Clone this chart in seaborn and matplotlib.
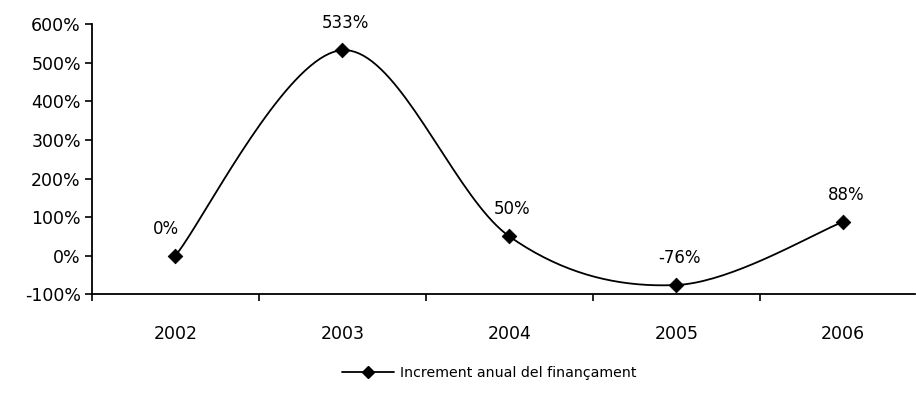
import numpy as np
import pandas as pd
import matplotlib
matplotlib.use("Agg")
import matplotlib.pyplot as plt
from matplotlib.lines import Line2D
import seaborn as sns

years = ["2002", "2003", "2004", "2005", "2006"]
values = [0, 533, 50, -76, 88]
labels = ["0%", "533%", "50%", "-76%", "88%"]
series_name = "Increment anual del finançament"

sns.set_theme(style="white")
plt.rcParams["font.family"] = ["DejaVu Sans"]
plt.rcParams["text.color"] = "black"
plt.rcParams["xtick.color"] = "black"
plt.rcParams["ytick.color"] = "black"

fig = plt.figure(figsize=(9.16, 4.09), dpi=100)
ax = fig.add_axes([0.1004, 0.2805, 0.8986, 0.6601])

x = np.arange(len(years), dtype=float)
y = np.array(values, dtype=float)

# Smoothed rendering (Bezier, spreadsheet-style "smoothed line")
sx, sy = [], []
n = len(x)
for i in range(n - 1):
    p0 = np.array([x[max(i - 1, 0)], y[max(i - 1, 0)]])
    p1 = np.array([x[i], y[i]])
    p2 = np.array([x[i + 1], y[i + 1]])
    p3 = np.array([x[min(i + 2, n - 1)], y[min(i + 2, n - 1)]])
    c1 = p1 + (p2 - p0) / 6.0
    c2 = p2 - (p3 - p1) / 6.0
    t = np.linspace(0, 1, 40)[:, None]
    pts = ((1 - t) ** 3) * p1 + 3 * ((1 - t) ** 2) * t * c1 + 3 * (1 - t) * t ** 2 * c2 + t ** 3 * p2
    sx.extend(pts[:, 0]); sy.extend(pts[:, 1])

curve = pd.DataFrame({"x": sx, "y": sy})
sns.lineplot(data=curve, x="x", y="y", ax=ax, color="black", linewidth=1.3, sort=False, estimator=None)
pts_df = pd.DataFrame({"x": x, "y": y})
sns.scatterplot(data=pts_df, x="x", y="y", ax=ax, marker="D", s=55, color="black", edgecolor="black", zorder=5)

for xi, yi, lab in zip(x, y, labels):
    dx = -10 if lab == "0%" else 3
    ax.annotate(lab, (xi, yi), xytext=(dx, 27), textcoords="offset pixels",
                ha="center", va="center", fontsize=12, color="black")

ax.set_xlim(-0.5, 4.43)
ax.set_ylim(-100, 600)
ax.set_yticks(np.arange(-100, 601, 100))
ax.set_yticklabels([f"{v}%" for v in range(-100, 601, 100)], fontsize=12.5)
ax.set_xticks(x)
ax.set_xticklabels(years, fontsize=12.5)
ax.set_xticks(np.arange(-0.5, 4.5, 1.0), minor=True)
ax.tick_params(axis="x", which="major", length=0, pad=22, labelcolor="black")
ax.tick_params(axis="x", which="minor", length=5, width=1.2, direction="out", color="black", bottom=True)
ax.tick_params(axis="y", which="major", length=5, width=1.2, direction="out", color="black", left=True, pad=3,
               labelcolor="black")
ax.set_xlabel(""); ax.set_ylabel("")
for s in ["top", "right"]:
    ax.spines[s].set_visible(False)
for s in ["left", "bottom"]:
    ax.spines[s].set_color("black")
    ax.spines[s].set_linewidth(1.3)

handle = Line2D([0], [0], color="black", linewidth=1.3, marker="D", markersize=6.5)
leg = fig.legend([handle], [series_name], loc="center", bbox_to_anchor=(0.534, 0.088), frameon=False,
                 fontsize=10.2, handlelength=3.7, handletextpad=0.4)
for t in leg.get_texts():
    t.set_color("black")

fig.savefig("out.png", dpi=100)
